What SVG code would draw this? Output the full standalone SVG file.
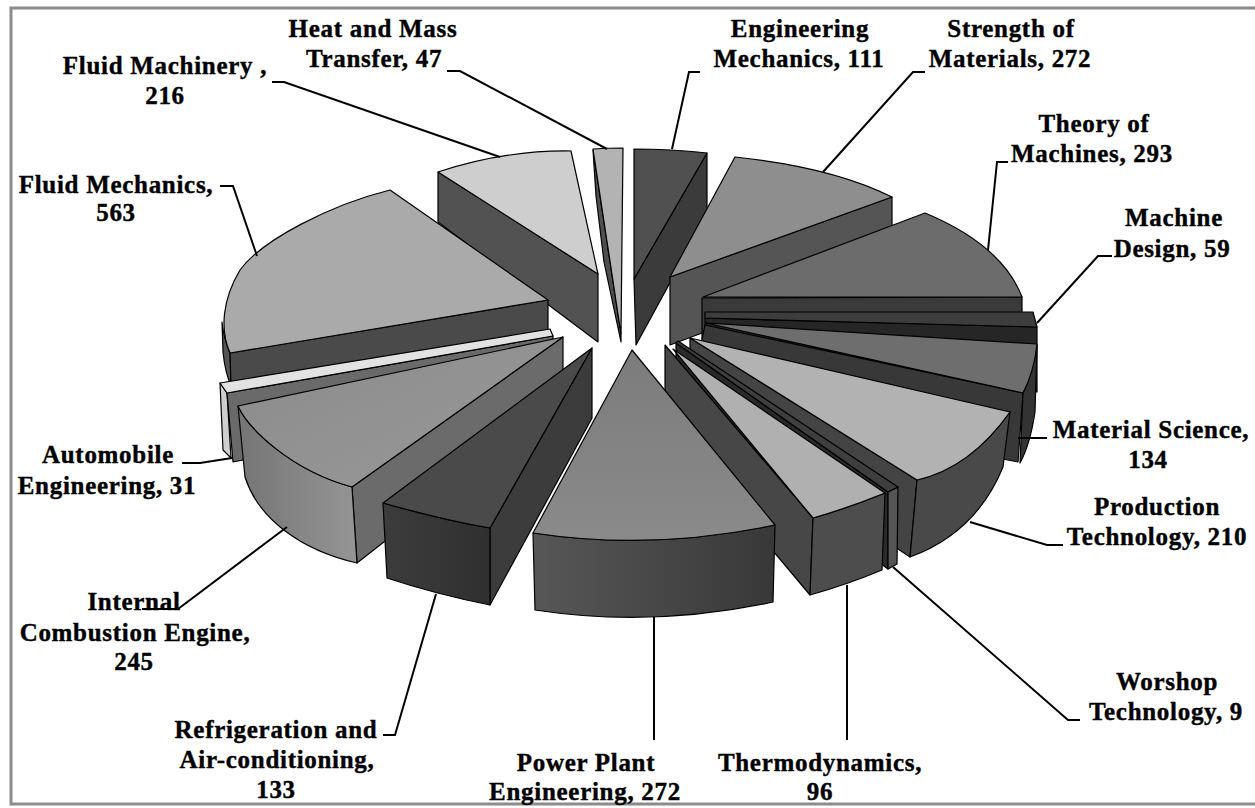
<svg xmlns="http://www.w3.org/2000/svg" width="1255" height="808" viewBox="0 0 1255 808">
<defs>
<linearGradient id="gICE" x1="0" y1="0" x2="1" y2="0"><stop offset="0" stop-color="#757575"/><stop offset="1" stop-color="#959595"/></linearGradient>
<linearGradient id="gICEt" x1="0" y1="0" x2="1" y2="1"><stop offset="0" stop-color="#8a8a8a"/><stop offset="1" stop-color="#9a9a9a"/></linearGradient>
<linearGradient id="gRAC" x1="0" y1="0" x2="1" y2="0"><stop offset="0" stop-color="#3c3c3c"/><stop offset="1" stop-color="#303030"/></linearGradient>
<linearGradient id="gPPE" x1="0" y1="0" x2="1" y2="0"><stop offset="0" stop-color="#575757"/><stop offset="1" stop-color="#383838"/></linearGradient>
<linearGradient id="gPPEt" x1="0" y1="0" x2="0" y2="1"><stop offset="0" stop-color="#7c7c7c"/><stop offset="1" stop-color="#8a8a8a"/></linearGradient>
</defs>
<style>
.f{stroke:#000;stroke-width:1.2;stroke-linejoin:round}
.lbl{font-family:"Liberation Serif","Times New Roman",serif;font-weight:bold;font-size:25px;letter-spacing:0.7px;text-anchor:middle;fill:#000;stroke:#000;stroke-width:0.4}
.ln{fill:none;stroke:#000;stroke-width:2}
</style>
<rect x="0" y="0" width="1255" height="808" fill="#fff"/>
<rect x="11" y="8" width="1260" height="796" fill="none" stroke="#8c8c8c" stroke-width="3"/>

<g id="slice-heat-mass">
<path class="f" d="M593,150 L621,334 L621,342 L604,262 L596,196 Z" fill="#4f4f4f"/>
<path class="f" d="M593,149 Q608,148 623,148 L621,334 Z" fill="#b3b3b3"/>
</g>
<g id="slice-fluid-machinery">
<path class="f" d="M438,172 L598,274 L598,342 L438,222 Z" fill="#525252"/>
<path class="f" d="M438,172 Q505,150 571,151 L598,274 Z" fill="#cecece"/>
</g>
<g id="slice-engineering-mechanics">
<path class="f" d="M707,153 L707,215 L636,345 L634,279 Z" fill="#3b3b3b"/>
<path class="f" d="M634,149 Q671,149 707,153 L634,279 Z" fill="#505050"/>
</g>
<g id="slice-strength-materials">
<path class="f" d="M892,197 L892,262 L670,345 L670,277 Z" fill="#555555"/>
<path class="f" d="M735,157 Q832,167 892,197 L670,277 Z" fill="#8e8e8e"/>
</g>
<g id="slice-fluid-mechanics">
<path class="f" d="M222,322 Q224,340 230,353 L231,386 Q225,372 223,352 Z" fill="#555555"/>
<path class="f" d="M230,353 L548,300 L548,362 L232,415 Z" fill="#4a4a4a"/>
<path class="f" d="M230,353 C220,330 222,300 240,270 C262,240 330,205 390,190 L548,300 Z" fill="#aaaaaa"/>
</g>
<g id="slice-theory-machines">
<path class="f" d="M702,298 L1022,297 L1022,360 L702,362 Z" fill="#3a3a3a"/>
<path class="f" d="M703,297 L925,213 Q1002,245 1022,297 Z" fill="#6c6c6c"/>
</g>
<g id="slice-machine-design">
<path class="f" d="M705,318 L1037,327 L1037,392 L705,385 Z" fill="#262626"/>
<path class="f" d="M705,312 L1033,312 L1037,327 L705,318 Z" fill="#3d3d3d"/>
</g>
<g id="slice-automobile">
<path class="f" d="M220,383 L227,393 L231,458 L223,450 Z" fill="#cfcfcf"/>
<path class="f" d="M227,393 L553,336 L553,398 L233,462 Z" fill="#6a6a6a"/>
<path class="f" d="M220,383 L550,329 L553,336 L227,393 Z" fill="#e2e2e2"/>
</g>
<g id="slice-material-science">
<path class="f" d="M705,325 L1023,393 L1018,462 L690,398 Z" fill="#383838"/>
<path class="f" d="M1037,345 Q1033,372 1023,393 L1020,463 Q1030,445 1035,412 Z" fill="#333333"/>
<path class="f" d="M706,323 L1037,344 Q1034,372 1023,393 Z" fill="#6e6e6e"/>
</g>
<g id="slice-ic-engine">
<path class="f" d="M352,487 L563,337 L563,402 L357,563 Z" fill="#6b6b6b"/>
<path class="f" d="M238,406 C248,428 290,470 352,487 L357,563 C300,550 258,518 245,477 Z" fill="url(#gICE)"/>
<path class="f" d="M238,406 L563,337 L352,487 C290,470 248,428 238,406 Z" fill="url(#gICEt)"/>
</g>
<g id="slice-production">
<path class="f" d="M690,338 L917,480 L910,557 L690,410 Z" fill="#444444"/>
<path class="f" d="M917,480 Q970,468 1010,412 L1003,467 Q976,533 910,557 Z" fill="#494949"/>
<path class="f" d="M690,338 L1010,412 Q970,468 917,480 Z" fill="#b2b2b2"/>
</g>
<g id="slice-workshop">
<path class="f" d="M676,343 L888,492 L888,569 L676,412 Z" fill="#2a2a2a"/>
<path class="f" d="M888,492 L898,487 L897,564 L888,569 Z" fill="#555555"/>
<path class="f" d="M678,341 L898,487 L888,492 L676,343 Z" fill="#3e3e3e"/>
</g>
<g id="slice-refrigeration">
<path class="f" d="M490,528 L592,348 L592,418 L490,605 Z" fill="#3c3c3c"/>
<path class="f" d="M383,503 Q443,520 490,528 L490,605 Q435,594 387,578 Z" fill="url(#gRAC)"/>
<path class="f" d="M383,503 L592,348 L490,528 Q443,520 383,503 Z" fill="#4a4a4a"/>
</g>
<g id="slice-thermodynamics">
<path class="f" d="M665,345 L813,518 L810,595 L665,422 Z" fill="#474747"/>
<path class="f" d="M813,518 Q848,508 885,493 L882,570 Q846,585 810,595 Z" fill="#4d4d4d"/>
<path class="f" d="M673,349 L885,493 Q848,508 813,518 Z" fill="#b0b0b0"/>
</g>
<g id="slice-power-plant">
<path class="f" d="M533,533 Q652,551 775,525 L773,602 Q652,628 535,610 Z" fill="url(#gPPE)"/>
<path class="f" d="M632,350 L775,525 Q652,551 533,533 Z" fill="url(#gPPEt)"/>
</g>

<g id="connectors">
<path class="ln" d="M447,71 L460,71 L607,149"/>
<path class="ln" d="M272,82 L284,82 L500,157"/>
<path class="ln" d="M220,186 L233,186 L257,256"/>
<path class="ln" d="M700,72 L689,72 L672,149"/>
<path class="ln" d="M925,72 L913,72 L823,172"/>
<path class="ln" d="M1008,162 L997,162 L988,250"/>
<path class="ln" d="M1112,256 L1098,256 L1037,323"/>
<path class="ln" d="M1047,438 L1018,438"/>
<path class="ln" d="M1063,545 L1047,545 L970,522"/>
<path class="ln" d="M1080,720 L1068,720 L893,567"/>
<path class="ln" d="M847,585 L847,740"/>
<path class="ln" d="M654,617 L654,740"/>
<path class="ln" d="M383,735 L395,735 L436,594"/>
<path class="ln" d="M287,527 L178,609 L142,609"/>
<path class="ln" d="M182,463 L200,463 L232,458"/>
</g>

<g id="labels">
<text class="lbl" x="373" y="37">Heat and Mass</text>
<text class="lbl" x="374" y="67">Transfer, 47</text>
<text class="lbl" x="165" y="74">Fluid Machinery ,</text>
<text class="lbl" x="165" y="104">216</text>
<text class="lbl" x="116" y="193">Fluid Mechanics,</text>
<text class="lbl" x="116" y="221">563</text>
<text class="lbl" x="800" y="37">Engineering</text>
<text class="lbl" x="799" y="67">Mechanics, 111</text>
<text class="lbl" x="1011" y="37">Strength of</text>
<text class="lbl" x="1010" y="67">Materials, 272</text>
<text class="lbl" x="1094" y="132">Theory of</text>
<text class="lbl" x="1092" y="162">Machines, 293</text>
<text class="lbl" x="1174" y="226">Machine</text>
<text class="lbl" x="1172" y="257">Design, 59</text>
<text class="lbl" x="1151" y="438">Material Science,</text>
<text class="lbl" x="1148" y="468">134</text>
<text class="lbl" x="1157" y="515">Production</text>
<text class="lbl" x="1157" y="545">Technology, 210</text>
<text class="lbl" x="1167" y="690">Worshop</text>
<text class="lbl" x="1166" y="720">Technology, 9</text>
<text class="lbl" x="820" y="771">Thermodynamics,</text>
<text class="lbl" x="820" y="800">96</text>
<text class="lbl" x="586" y="771">Power Plant</text>
<text class="lbl" x="585" y="800">Engineering, 272</text>
<text class="lbl" x="276" y="738">Refrigeration and</text>
<text class="lbl" x="277" y="768">Air-conditioning,</text>
<text class="lbl" x="276" y="798">133</text>
<text class="lbl" x="134" y="610">Internal</text>
<text class="lbl" x="135" y="641">Combustion Engine,</text>
<text class="lbl" x="134" y="670">245</text>
<text class="lbl" x="108" y="463">Automobile</text>
<text class="lbl" x="107" y="494">Engineering, 31</text>
</g>
</svg>
